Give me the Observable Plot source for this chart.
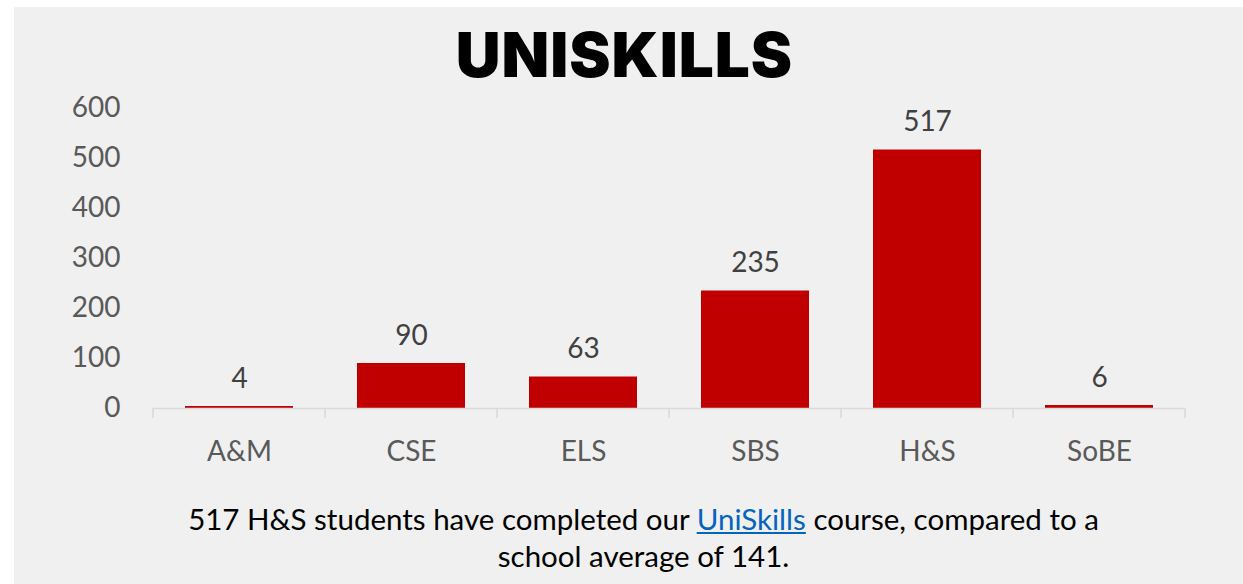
<!DOCTYPE html>
<html>
<head>
<meta charset="utf-8">
<script src="https://cdn.jsdelivr.net/npm/d3@7"></script>
<script src="https://cdn.jsdelivr.net/npm/@observablehq/plot@0.6"></script>
<style>
  html, body { margin: 0; padding: 0; background: #ffffff; }
  #panel { position: absolute; left: 14px; top: 7px; width: 1229px; height: 577px; background: #f0f0f0; overflow: hidden; }
  #title { position: absolute; left: -4px; top: 8px; width: 1229px; text-align: center; font-family: Inter, "Liberation Sans", sans-serif; font-weight: 900; font-size: 62px; line-height: 80px; color: #000; letter-spacing: 1px; }
  #chart { position: absolute; left: 0; top: 83px; }
  #caption { position: absolute; left: 0; top: 493px; width: 1259px; text-align: center; font-family: Lato, "Open Sans", sans-serif; font-size: 29.5px; line-height: 37px; color: #000; }
  #caption a { color: #0563c1; text-decoration: underline; }
</style>
</head>
<body>
<div id="panel">
  <div id="title">UNISKILLS</div>
  <div id="chart"></div>
  <div id="caption">517 H&amp;S students have completed our <a>UniSkills</a> course, compared to a<br>school average of 141.</div>
</div>
<script>
const schools = ["A&M", "CSE", "ELS", "SBS", "H&S", "SoBE"];
const students = [4, 90, 63, 235, 517, 6];
const yTicks = [0, 100, 200, 300, 400, 500, 600];

const data = schools.map((s, i) => ({school: s, value: students[i]}));

const baseAxis = (index, scales, values, dimensions) => {
  const x = scales.x;
  const step = x(schools[1]) - x(schools[0]);
  const bw = typeof x.bandwidth === "function" ? x.bandwidth() : (x.bandwidth ?? step * 0.625);
  const y0 = scales.y(0);
  const g = d3.create("svg:g");
  const left = x(schools[0]) + bw / 2 - step / 2;
  const right = x(schools[schools.length - 1]) + bw / 2 + step / 2;
  g.append("line").attr("x1", left).attr("x2", right).attr("y1", y0 + 0.5).attr("y2", y0 + 0.5)
    .attr("stroke", "#d9d9d9").attr("stroke-width", 1.5);
  for (let i = 0; i <= schools.length; i++) {
    const bx = left + i * step;
    g.append("line").attr("x1", bx).attr("x2", bx).attr("y1", y0).attr("y2", y0 + 10)
      .attr("stroke", "#d9d9d9").attr("stroke-width", 1.5);
  }
  return g.node();
};

const chart = Plot.plot({
  width: 1229,
  height: 380,
  marginLeft: 136,
  marginRight: 56,
  marginTop: 18,
  marginBottom: 62,
  style: { background: "transparent", fontFamily: "Lato, 'Open Sans', sans-serif", fontSize: "28px" },
  x: { domain: schools, paddingInner: 0.375, paddingOuter: 0.1875, label: null },
  y: { domain: [0, 600], label: null },
  marks: [
    Plot.axisY({ ticks: yTicks, tickSize: 0, tickPadding: 30, fontSize: 28, fill: "#595959", label: null }),
    Plot.axisX({ tickSize: 0, tickPadding: 33, fontSize: 28, fill: "#595959", label: null }),
    Plot.barY(data, { x: "school", y: "value", fill: "#c00000" }),
    baseAxis,
    Plot.text(data, { x: "school", y: "value", text: d => String(d.value), lineAnchor: "bottom", dy: -19, fontSize: 28, fill: "#404040" })
  ]
});
document.getElementById("chart").appendChild(chart);
</script>
</body>
</html>
